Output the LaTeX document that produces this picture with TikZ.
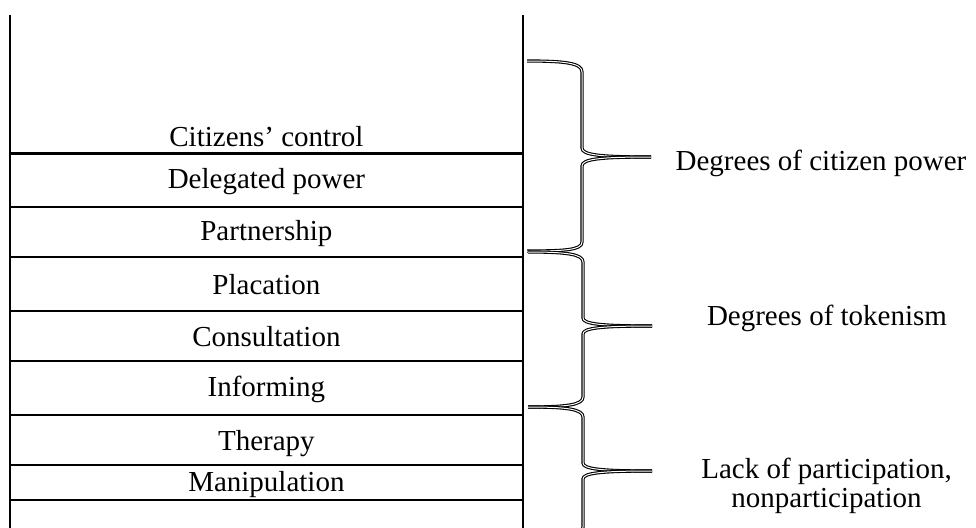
\documentclass[tikz,border=0pt]{standalone}
\usepackage{fontspec}
\setmainfont{Liberation Serif}
\begin{document}
\begin{tikzpicture}[x=1pt,y=-1pt,
  rung/.style={line width=2.3pt},
  lbl/.style={anchor=base, font=\fontsize{29}{34}\selectfont, inner sep=0pt},
  brace/.style={draw=black, line width=1.1pt, double=white, double distance=1pt, line cap=butt}]
\useasboundingbox (0,0) rectangle (976,527);
\clip (0,0) rectangle (976,527);
% ladder
\draw[rung] (10,15) -- (10,530);
\draw[rung] (522.7,15) -- (522.7,530);
\foreach \y in {153.5,206.7,256.7,310.7,360.7,414.7,465.3,499.7}
  \draw[rung] (10,\y) -- (522.7,\y);
% rung labels
\node[lbl] (r8) at (266.4,146.7) {Citizens’ control};
\node[lbl] (r7) at (266.4,188) {Delegated power};
\node[lbl] (r6) at (266.4,240) {Partnership};
\node[lbl] (r5) at (266.4,294.3) {Placation};
\node[lbl] (r4) at (266.4,346.7) {Consultation};
\node[lbl] (r3) at (266.4,396.7) {Informing};
\node[lbl] (r2) at (266.4,450) {Therapy};
\node[lbl] (r1) at (266.4,491.7) {Manipulation};
% braces
\draw[brace] (527,61) .. controls (565,61) and (582,63) .. (582,72) -- (582,148)
  .. controls (582,155) and (600,157) .. (651,157);
\draw[brace] (651,157) .. controls (600,157) and (582,159) .. (582,166) -- (582,242)
  .. controls (582,250) and (565,251) .. (527,251);
\draw[brace] (528,252) .. controls (566,252) and (583,254) .. (583,262) -- (583,318)
  .. controls (583,324) and (601,326) .. (652,326);
\draw[brace] (652,326) .. controls (601,326) and (583,328) .. (583,334) -- (583,397)
  .. controls (583,405) and (566,407) .. (528,407);
\draw[brace] (528,407) .. controls (566,407) and (583,409) .. (583,417) -- (583,463)
  .. controls (583,469) and (601,471) .. (652,471);
\draw[brace] (652,471) .. controls (601,471) and (583,473) .. (583,479) -- (583,527)
  .. controls (583,535) and (566,537) .. (528,537);
% group labels
\node[lbl] (g3) at (821,170) {Degrees of citizen power};
\node[lbl] (g2) at (827,325) {Degrees of tokenism};
\node[lbl] (g1a) at (826.5,478) {Lack of participation,};
\node[lbl] (g1b) at (826.5,507) {nonparticipation};
\end{tikzpicture}
\end{document}
